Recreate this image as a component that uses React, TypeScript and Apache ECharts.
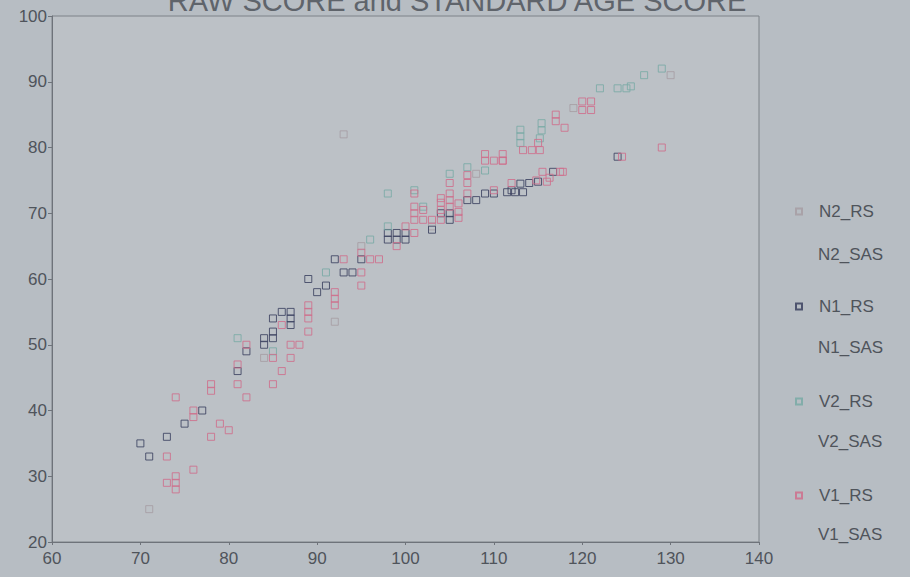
import React, { useEffect, useRef } from "react";
import * as echarts from "echarts";

const titleText = "RAW SCORE and STANDARD AGE SCORE";
const xTicks = { min: 60, max: 140, interval: 10 };
const yTicks = { min: 20, max: 100, interval: 10 };

const n2Data: number[][] = [
  [71, 25], [84, 48], [92, 53.5], [93, 82], [130, 91], [95, 65], [103, 68], [108, 76], [119, 86],
];

const n1Data: number[][] = [
  [70, 35], [71, 33], [73, 36], [75, 38], [77, 40], [81, 46], [82, 49], [84, 51], [84, 50],
  [85, 52], [85, 51], [85, 54], [86, 55], [87, 55], [87, 54], [87, 53], [89, 60], [90, 58],
  [91, 59], [92, 63], [93, 61], [94, 61], [95, 63], [98, 66], [98, 67], [99, 67], [99, 66],
  [100, 67], [100, 66], [103, 67.5], [104, 70], [105, 70], [105, 69], [107, 72], [108, 72],
  [109, 73], [110, 73], [111.5, 73.2], [112, 73.5], [112.4, 73.2], [113, 74.5], [113.3, 73.2],
  [114, 74.6], [115, 74.8], [116.7, 76.3], [124, 78.6],
];

const v2Data: number[][] = [
  [81, 51], [85, 49], [91, 61], [96, 66], [98, 68], [101, 73.5], [102, 71], [105, 76], [107, 77],
  [109, 76.5], [113, 82.7], [113, 81.7], [113, 80.7], [115.4, 83.7], [115.4, 82.6], [115.2, 81.4],
  [122, 89], [124, 89], [125, 89], [125.5, 89.3], [127, 91], [129, 92], [98, 73],
];

const v1Data: number[][] = [
  [73, 33], [76, 40], [76, 39], [74, 42], [76, 31], [74, 30], [74, 29], [74, 28], [73, 29],
  [78, 44], [78, 43], [79, 38], [80, 37], [78, 36], [81, 44], [81, 47], [82, 42], [82, 50],
  [86, 53], [87, 50], [88, 50], [85, 48], [86, 46], [85, 44], [87, 48], [89, 56], [89, 55],
  [89, 54], [89, 52], [92, 58], [93, 63], [92, 57], [92, 56], [96, 63], [97, 63], [95, 64],
  [95, 61], [95, 59], [99, 65], [100, 68], [101, 67], [101, 69], [101, 70], [102, 69],
  [102, 70.5], [101, 71], [101, 73], [103, 69], [104, 69], [104, 70.5], [104, 71.6], [104, 72.3],
  [105, 71], [105, 72], [105, 73], [105, 74.6], [106, 71.5], [106, 70.2], [106, 69.3], [107, 73],
  [107, 74.6], [107, 75.8], [110, 73.5], [109, 78], [109, 79], [110, 78], [111, 78], [111, 79],
  [112, 74.6], [113.3, 79.6], [114.3, 79.6], [115.2, 79.6], [115, 80.7], [116, 74.8],
  [117.5, 76.3], [115.5, 76.3], [117.8, 76.3], [114.8, 75], [116.3, 75.4], [117, 85], [117, 84],
  [118, 83], [120, 87], [121, 87], [120, 85.7], [121, 85.7], [124.5, 78.6], [129, 80], [111, 78],
];

const seriesNames = ["N2_RS", "N1_RS", "V2_RS", "V1_RS"];
const pairNames = ["N2_SAS", "N1_SAS", "V2_SAS", "V1_SAS"];
const seriesColors = ["#a3979d", "#3c4260", "#79aaa6", "#cf6f8c"];
const seriesData = [n2Data, n1Data, v2Data, v1Data];

export default function App() {
  const ref = useRef<HTMLDivElement>(null);
  useEffect(() => {
    if (!ref.current) return;
    const chart = echarts.init(ref.current, null, { renderer: "svg" });
    const font = "'Liberation Sans', Arial, sans-serif";
    const textColor = "#4f545b";
    const legendCenters = [208, 251, 303, 344, 398, 438, 492, 531];
    const legends: any[] = [];
    seriesNames.forEach((name, i) => {
      legends.push({
        data: [{ name, icon: "rect" }],
        left: 790,
        top: legendCenters[i * 2] - 10,
        itemWidth: 6,
        itemHeight: 6,
        selectedMode: false,
        textStyle: { color: textColor, fontSize: 17, fontFamily: font, padding: [0, 0, 0, 12] },
      });
      legends.push({
        data: [{ name: pairNames[i], icon: "rect", itemStyle: { color: "transparent", borderColor: "transparent" } }],
        left: 790,
        top: legendCenters[i * 2 + 1] - 10,
        itemWidth: 6,
        itemHeight: 6,
        selectedMode: false,
        textStyle: { color: textColor, fontSize: 17, fontFamily: font, padding: [0, 0, 0, 12] },
      });
    });
    const series: any[] = [];
    seriesNames.forEach((name, i) => {
      series.push({
        name,
        type: "scatter",
        data: seriesData[i],
        symbol: "rect",
        symbolSize: 7,
        itemStyle: { color: "transparent", borderColor: seriesColors[i], borderWidth: 1, opacity: i === 0 ? 0.7 : 0.85 },
      });
      series.push({
        name: pairNames[i],
        type: "scatter",
        data: [],
        itemStyle: { color: "transparent", borderColor: "transparent" },
      });
    });
    chart.setOption({
      animation: false,
      backgroundColor: "#b7bdc3",
      grid: {
        left: 52,
        right: 151,
        top: 16,
        bottom: 35,
        show: true,
        backgroundColor: "#bcc1c6",
        borderColor: "#7d8288",
        borderWidth: 1,
      },
      graphic: [
        {
          type: "text",
          x: 457,
          y: 1,
          style: {
            text: titleText,
            fill: "#5f646b",
            fontSize: 29,
            fontFamily: font,
            textAlign: "center",
            textVerticalAlign: "middle",
          },
        },
      ],
      legend: legends,
      xAxis: {
        type: "value",
        min: xTicks.min,
        max: xTicks.max,
        interval: xTicks.interval,
        splitLine: { show: false },
        axisLine: { lineStyle: { color: "#6e737a", width: 1 } },
        axisTick: { show: true, length: 3, lineStyle: { color: "#6e737a" } },
        axisLabel: { color: textColor, fontSize: 17, fontFamily: font, margin: 8 },
      },
      yAxis: {
        type: "value",
        min: yTicks.min,
        max: yTicks.max,
        interval: yTicks.interval,
        splitLine: { show: false },
        axisLine: { show: true, lineStyle: { color: "#6e737a", width: 1 } },
        axisTick: { show: true, length: 4, lineStyle: { color: "#6e737a" } },
        axisLabel: { color: textColor, fontSize: 17, fontFamily: font, margin: 5 },
      },
      series,
    });
    return () => chart.dispose();
  }, []);
  return (
    <div
      ref={ref}
      style={{ position: "fixed", left: 0, top: 0, width: 910, height: 577, background: "#b7bdc3" }}
    />
  );
}
